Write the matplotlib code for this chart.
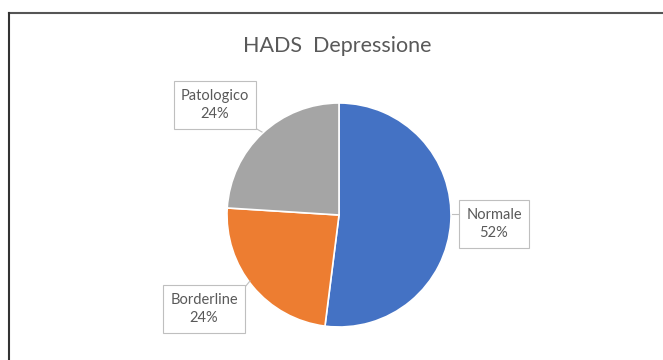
import matplotlib.pyplot as plt

categories = ["Normale", "Borderline", "Patologico"]
percent = [52, 24, 24]
colors = ["#4472C4", "#ED7D31", "#A5A5A5"]
title = "HADS  Depressione"

W, H = 663, 360
plt.rcParams["font.family"] = ["Lato", "DejaVu Sans"]

fig = plt.figure(figsize=(W / 100, H / 100), dpi=100)
ax = fig.add_axes([0, 0, 1, 1])

# frame lines (only top and left visible in the source)
ax.plot([9, W], [H - 13, H - 13], color="#555555", lw=1.5)
ax.plot([9, 9], [0, H - 13], color="#333333", lw=1.5)

cx, cy, r = 339, H - 215, 112
ax.pie(percent, colors=colors, startangle=90, counterclock=False,
       center=(cx, cy), radius=r, frame=True,
       wedgeprops=dict(edgecolor="white", linewidth=1.2))
ax.set_xlim(0, W)
ax.set_ylim(0, H)
ax.set_aspect("equal")
ax.axis("off")

ax.text(337, H - 46, title, ha="center", va="center", fontsize=15.5, color="#595959")

# label box centres and pointer tips, in image pixels
boxes = {"Normale": (494, 224, (452, 214), (459, 214)),
         "Borderline": (204, 309, (250, 281), (245, 287)),
         "Patologico": (215, 105, (262, 132), (255, 128))}
for name, p in zip(categories, percent):
    bx, by, tip, base = boxes[name]
    ax.text(bx, H - by, f"{name}\n{p}%", ha="center", va="center", fontsize=10.5,
            color="#595959", linespacing=1.45,
            bbox=dict(boxstyle="square,pad=0.5", fc="white", ec="#BFBFBF", lw=0.8))
    ax.plot([base[0], tip[0]], [H - base[1], H - tip[1]], color="#BFBFBF", lw=0.8)

fig.savefig("out.png", dpi=100, facecolor="white")
